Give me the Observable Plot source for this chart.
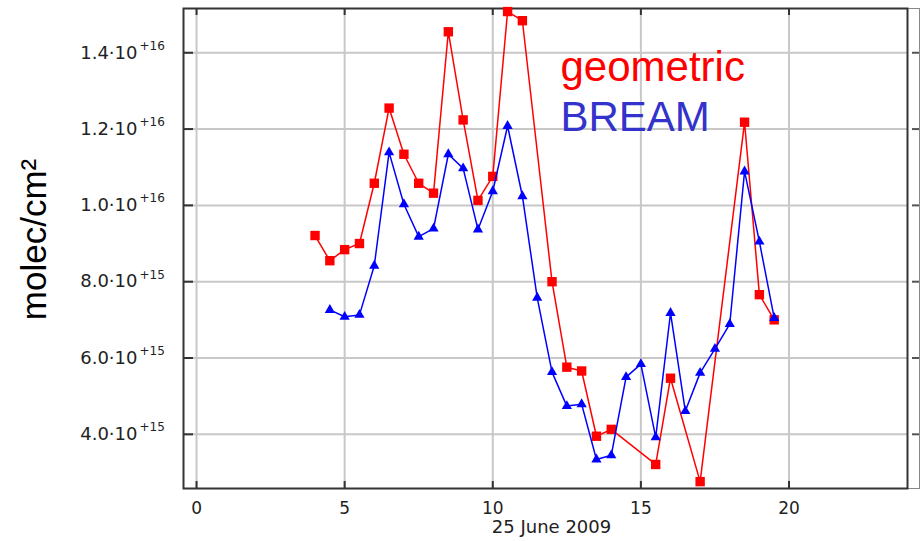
<!DOCTYPE html>
<html>
<head>
<meta charset="utf-8">
<script src="https://cdn.jsdelivr.net/npm/d3@7"></script>
<script src="https://cdn.jsdelivr.net/npm/@observablehq/plot@0.6"></script>
<style>
  body { margin: 0; background: #fff; }
  #chart svg { display: block; }
</style>
</head>
<body>
<div id="chart"></div>
<script>
// Column densities on 25 June 2009 (hour of day), two retrieval methods
const geometricHours = [4, 4.5, 5, 5.5, 6, 6.5, 7, 7.5, 8, 8.5, 9, 9.5, 10, 10.5, 11,
  12, 12.5, 13, 13.5, 14, 15.5, 16, 17, 18.5, 19, 19.5];
const geometricValues = [9.21e15, 8.55e15, 8.84e15, 9.0e15, 10.58e15, 12.55e15, 11.34e15,
  10.58e15, 10.32e15, 14.55e15, 12.24e15, 10.13e15, 10.76e15, 15.08e15, 14.84e15,
  8.0e15, 5.76e15, 5.66e15, 3.95e15, 4.13e15, 3.21e15, 5.47e15, 2.76e15,
  12.18e15, 7.66e15, 7.0e15];

const breamHours = [4.5, 5, 5.5, 6, 6.5, 7, 7.5, 8, 8.5, 9, 9.5, 10, 10.5, 11, 11.5,
  12, 12.5, 13, 13.5, 14, 14.5, 15, 15.5, 16, 16.5, 17, 17.5, 18, 18.5, 19, 19.5];
const breamValues = [7.26e15, 7.08e15, 7.13e15, 8.42e15, 11.39e15, 10.03e15, 9.18e15,
  9.39e15, 11.34e15, 10.97e15, 9.37e15, 10.37e15, 12.08e15, 10.24e15, 7.58e15,
  5.63e15, 4.74e15, 4.79e15, 3.34e15, 3.45e15, 5.5e15, 5.84e15, 3.92e15, 7.18e15,
  4.61e15, 5.61e15, 6.24e15, 6.89e15, 10.89e15, 9.05e15, 7.05e15];

const xTicks = [0, 5, 10, 15, 20];
const yTicks = [4e15, 6e15, 8e15, 1.0e16, 1.2e16, 1.4e16];
const seriesNames = ["geometric", "BREAM"];
const xLabel = "25 June 2009";
const yLabel = "molec/cm²";

const geometric = geometricHours.map((h, i) => ({hour: h, value: geometricValues[i]}));
const bream = breamHours.map((h, i) => ({hour: h, value: breamValues[i]}));

// "1.4·10" + superscript "+16"
const exponentOf = v => Math.floor(Math.log10(v));
const mantissaOf = v => (v / Math.pow(10, exponentOf(v))).toFixed(1) + "·10";
const superOf = v => "+" + exponentOf(v);

const W = 920, H = 541;
const mL = 183, mR = 13, mT = 8, mB = 53;
const fw = W - mL - mR, fh = H - mT - mB;

const RED = "#ff0000", BLUE = "#0000ff";
const tickFont = "DejaVu Sans, sans-serif";
const labelFont = "Liberation Sans, Arial, sans-serif";

const chart = Plot.plot({
  width: W,
  height: H,
  marginLeft: mL,
  marginRight: mR,
  marginTop: mT,
  marginBottom: mB,
  x: {domain: [-0.44, 24], axis: null},
  y: {domain: [2.58e15, 1.516e16], axis: null},
  style: {background: "#fff", overflow: "visible"},
  marks: [
    // grid
    Plot.ruleX(xTicks, {x: d => d, stroke: "#c8c8c8", strokeWidth: 2}),
    Plot.ruleY(yTicks, {y: d => d, stroke: "#c8c8c8", strokeWidth: 2}),
    // inward ticks
    Plot.ruleY(yTicks, {y: d => d, stroke: "#333", strokeWidth: 2, insetRight: fw - 10}),
    Plot.ruleY(yTicks, {y: d => d, stroke: "#555", strokeWidth: 2, insetLeft: fw + 5, insetRight: -13}),
    Plot.ruleX(xTicks, {x: d => d, stroke: "#333", strokeWidth: 2, insetTop: fh - 7}),
    Plot.ruleX(xTicks, {x: d => d, stroke: "#333", strokeWidth: 2, insetBottom: fh - 7}),
    // box
    Plot.frame({stroke: "#888", strokeWidth: 1, insetRight: -12}),
    Plot.frame({stroke: "#333", strokeWidth: 2}),
    // series
    Plot.line(geometric, {x: "hour", y: "value", stroke: RED, strokeWidth: 1.5}),
    Plot.dot(geometric, {x: "hour", y: "value", symbol: "square", r: 5.3, fill: RED, stroke: "none"}),
    Plot.line(bream, {x: "hour", y: "value", stroke: BLUE, strokeWidth: 1.5}),
    Plot.dot(bream, {x: "hour", y: "value", symbol: "triangle", r: 3.8, fill: BLUE, stroke: "none"}),
    // y tick labels
    Plot.text(yTicks, {y: d => d, frameAnchor: "left", text: mantissaOf, textAnchor: "end",
      lineAnchor: "middle", dx: -46, fontSize: 18, fontFamily: tickFont, fill: "#222"}),
    Plot.text(yTicks, {y: d => d, frameAnchor: "left", text: superOf, textAnchor: "start",
      lineAnchor: "middle", dx: -44, dy: -7, fontSize: 12, fontFamily: tickFont, fill: "#222"}),
    // x tick labels
    Plot.text(xTicks, {x: d => d, frameAnchor: "bottom", text: d => String(d), lineAnchor: "middle",
      dy: 20, fontSize: 17, fontFamily: tickFont, fill: "#222"}),
    Plot.text([xLabel], {frameAnchor: "bottom", text: d => d, textAnchor: "middle", lineAnchor: "middle",
      dx: 6, dy: 39, fontSize: 18, fontFamily: tickFont, fill: "#222", letterSpacing: "1px"}),
    // y axis title
    Plot.text([yLabel], {frameAnchor: "left", text: d => d, rotate: -90, textAnchor: "middle",
      lineAnchor: "middle", dx: -149, dy: -9, fontSize: 35, fontFamily: labelFont, fill: "#000"}),
    // legend
    Plot.text([seriesNames[0]], {frameAnchor: "top-left", text: d => d, textAnchor: "start",
      lineAnchor: "middle", dx: 377, dy: 59, fontSize: 42, fontFamily: labelFont, fill: RED}),
    Plot.text([seriesNames[1]], {frameAnchor: "top-left", text: d => d, textAnchor: "start",
      lineAnchor: "middle", dx: 377, dy: 109, fontSize: 42, fontFamily: labelFont, fill: "#3333cc"})
  ]
});

document.getElementById("chart").appendChild(chart);
</script>
</body>
</html>
